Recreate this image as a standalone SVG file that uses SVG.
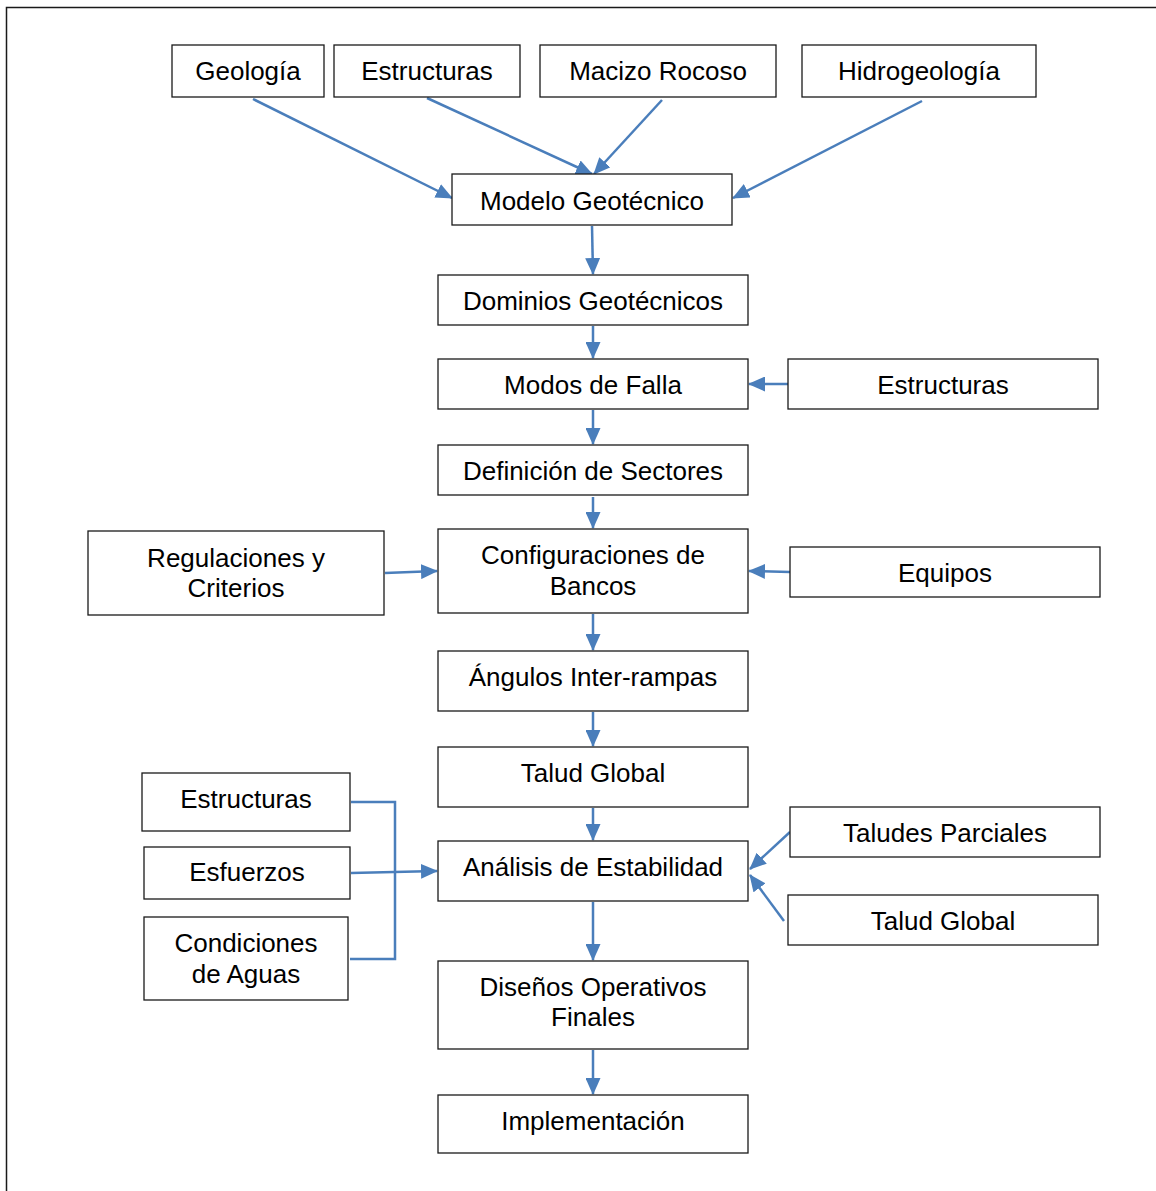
<svg xmlns="http://www.w3.org/2000/svg" width="1156" height="1191" viewBox="0 0 1156 1191">
<style>
.n rect{fill:#fff;stroke:#1a1a1a;stroke-width:1.3}
.n text{font-family:"Liberation Sans",Arial,sans-serif;font-size:26px;fill:#000;text-anchor:middle}
.c line,.c path{stroke:#4a7ebb;stroke-width:2.5;fill:none}
.a{marker-end:url(#ah)}
</style>
<defs>
<marker id="ah" markerUnits="userSpaceOnUse" markerWidth="17" markerHeight="15" refX="16" refY="7.5" orient="auto">
<path d="M0,0 L17,7.5 L0,15 Z" fill="#4a7ebb"/>
</marker>
</defs>
<rect width="1156" height="1191" fill="#fff"/>
<path d="M6.5,1191 V7.5 H1156" fill="none" stroke="#1a1a1a" stroke-width="1.5"/>
<g class="c">
<line class="a" x1="253" y1="99" x2="452" y2="198"/>
<line class="a" x1="427" y1="98" x2="592" y2="174"/>
<line class="a" x1="662" y1="100" x2="594" y2="174"/>
<line class="a" x1="922" y1="101" x2="733" y2="198"/>
<line class="a" x1="592" y1="226" x2="593" y2="274"/>
<line class="a" x1="593" y1="326" x2="593" y2="358"/>
<line class="a" x1="788" y1="384" x2="749" y2="384"/>
<line class="a" x1="593" y1="410" x2="593" y2="444"/>
<line class="a" x1="593" y1="497" x2="593" y2="528"/>
<line class="a" x1="385" y1="573" x2="437" y2="571"/>
<line class="a" x1="790" y1="572" x2="749" y2="571"/>
<line class="a" x1="593" y1="614" x2="593" y2="650"/>
<line class="a" x1="593" y1="712" x2="593" y2="746"/>
<line class="a" x1="593" y1="808" x2="593" y2="840"/>
<path d="M351,802 H395 V959 H350"/>
<line class="a" x1="351" y1="873" x2="437" y2="871"/>
<line class="a" x1="790" y1="832" x2="750" y2="869"/>
<line class="a" x1="784" y1="921" x2="750" y2="875"/>
<line class="a" x1="593" y1="902" x2="593" y2="960"/>
<line class="a" x1="593" y1="1050" x2="593" y2="1094"/>
</g>
<g id="geologia" class="n"><rect x="172" y="45" width="152" height="52"/><text x="248" y="80">Geología</text></g>
<g id="estructuras-top" class="n"><rect x="334" y="45" width="186" height="52"/><text x="427" y="80">Estructuras</text></g>
<g id="macizo" class="n"><rect x="540" y="45" width="236" height="52"/><text x="658" y="80">Macizo Rocoso</text></g>
<g id="hidrogeologia" class="n"><rect x="802" y="45" width="234" height="52"/><text x="919" y="80">Hidrogeología</text></g>
<g id="modelo" class="n"><rect x="452" y="174" width="280" height="51"/><text x="592" y="210">Modelo Geotécnico</text></g>
<g id="dominios" class="n"><rect x="438" y="275" width="310" height="50"/><text x="593" y="310">Dominios Geotécnicos</text></g>
<g id="modos" class="n"><rect x="438" y="359" width="310" height="50"/><text x="593" y="394">Modos de Falla</text></g>
<g id="estructuras-right" class="n"><rect x="788" y="359" width="310" height="50"/><text x="943" y="394">Estructuras</text></g>
<g id="definicion" class="n"><rect x="438" y="445" width="310" height="50"/><text x="593" y="480">Definición de Sectores</text></g>
<g id="configuraciones" class="n"><rect x="438" y="529" width="310" height="84"/><text x="593" y="564">Configuraciones de</text><text x="593" y="595">Bancos</text></g>
<g id="regulaciones" class="n"><rect x="88" y="531" width="296" height="84"/><text x="236" y="567">Regulaciones y</text><text x="236" y="597">Criterios</text></g>
<g id="equipos" class="n"><rect x="790" y="547" width="310" height="50"/><text x="945" y="582">Equipos</text></g>
<g id="angulos" class="n"><rect x="438" y="651" width="310" height="60"/><text x="593" y="686">Ángulos Inter-rampas</text></g>
<g id="talud-global" class="n"><rect x="438" y="747" width="310" height="60"/><text x="593" y="782">Talud Global</text></g>
<g id="estructuras-left" class="n"><rect x="142" y="773" width="208" height="58"/><text x="246" y="808">Estructuras</text></g>
<g id="esfuerzos" class="n"><rect x="144" y="847" width="206" height="52"/><text x="247" y="881">Esfuerzos</text></g>
<g id="condiciones" class="n"><rect x="144" y="917" width="204" height="83"/><text x="246" y="952">Condiciones</text><text x="246" y="983">de Aguas</text></g>
<g id="analisis" class="n"><rect x="438" y="841" width="310" height="60"/><text x="593" y="876">Análisis de Estabilidad</text></g>
<g id="taludes-parciales" class="n"><rect x="790" y="807" width="310" height="50"/><text x="945" y="842">Taludes Parciales</text></g>
<g id="talud-global-right" class="n"><rect x="788" y="895" width="310" height="50"/><text x="943" y="930">Talud Global</text></g>
<g id="disenos" class="n"><rect x="438" y="961" width="310" height="88"/><text x="593" y="996">Diseños Operativos</text><text x="593" y="1026">Finales</text></g>
<g id="implementacion" class="n"><rect x="438" y="1095" width="310" height="58"/><text x="593" y="1130">Implementación</text></g>
</svg>
